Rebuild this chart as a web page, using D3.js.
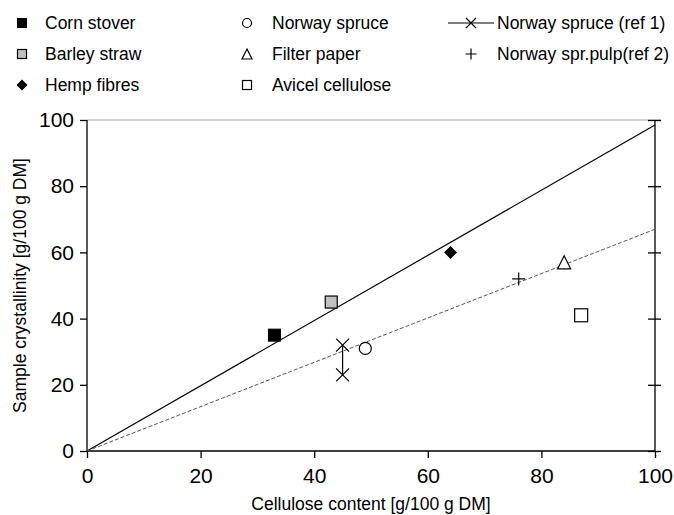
<!DOCTYPE html>
<html><head><meta charset="utf-8">
<script src="https://cdn.jsdelivr.net/npm/d3@7/dist/d3.min.js"></script>
<style>body{margin:0;background:#fff}svg{display:block}text{font-family:Arial,"Liberation Sans",sans-serif;fill:#000}</style>
</head><body>
<svg id="c" width="674" height="515"></svg>
<script>
// Data
const seriesNames = ["Corn stover","Barley straw","Hemp fibres","Norway spruce","Filter paper","Avicel cellulose","Norway spruce (ref 1)","Norway spr.pulp(ref 2)"];
const cellulose   = [33, 43, 64, 49, 84, 87];
const crystallinity = [35, 45, 60, 31, 57, 41];
const ref1Cellulose = [45, 45];
const ref1Cryst = [32, 23];
const ref2Cellulose = [76];
const ref2Cryst = [52];
const solidLineX = [0, 100];
const solidLineY = [0, 98.5];
const dashedLineX = [0, 100];
const dashedLineY = [0, 67];
const xTicks = [0, 20, 40, 60, 80, 100];
const yTicks = [0, 20, 40, 60, 80, 100];

const svg = d3.select("#c");
const L = 87, R = 655, T = 120, B = 451;
const x = d3.scaleLinear().domain([0,100]).range([L,R]);
const y = d3.scaleLinear().domain([0,100]).range([B,T]);

// top gray border
svg.append("line").attr("x1",L).attr("x2",R+6).attr("y1",T).attr("y2",T).attr("stroke","#a0a0a0").attr("stroke-width",1.2);

// axes
const xa = svg.append("g").attr("transform",`translate(0,${B})`).call(d3.axisBottom(x).tickValues(xTicks).tickSize(7).tickPadding(10));
const ya = svg.append("g").attr("transform",`translate(${L},0)`).call(d3.axisLeft(y).tickValues(yTicks).tickSize(7).tickPadding(6));
const ra = svg.append("g").attr("transform",`translate(${R},0)`).call(d3.axisRight(y).tickValues(yTicks).tickSize(6).tickFormat(""));
ra.selectAll(".tick line").attr("x1",-7);
[xa,ya,ra].forEach(a=>{
  a.select(".domain").attr("stroke","#000").attr("stroke-width",1.3);
  a.selectAll(".tick line").attr("stroke","#000").attr("stroke-width",1.3);
  a.selectAll("text").style("font-size","21px").style("font-family","Arial, 'Liberation Sans', sans-serif").attr("fill","#000");
});
xa.select(".domain").attr("d",`M${L},0H${R}`);
ya.select(".domain").attr("d",`M0,${B}V${T}`);
ra.select(".domain").attr("d",`M0,${B}V${T}`);

// lines
const lineGen = d3.line().x(d=>x(d[0])).y(d=>y(d[1]));
svg.append("path").datum(solidLineX.map((v,i)=>[v,solidLineY[i]])).attr("d",lineGen).attr("fill","none").attr("stroke","#000").attr("stroke-width",1.2);
svg.append("path").datum(dashedLineX.map((v,i)=>[v,dashedLineY[i]])).attr("d",lineGen).attr("fill","none").attr("stroke","#555").attr("stroke-width",1).attr("stroke-dasharray","4,2");

// marker drawing
function marker(g, type, cx, cy, s){
  const h = s/2;
  switch(type){
    case "sqFill": g.append("rect").attr("x",cx-h).attr("y",cy-h).attr("width",s).attr("height",s).attr("fill","#000").attr("stroke","#000"); break;
    case "sqGray": g.append("rect").attr("x",cx-h).attr("y",cy-h).attr("width",s).attr("height",s).attr("fill","#c0c0c0").attr("stroke","#000").attr("stroke-width",1.2); break;
    case "diamond": g.append("path").attr("d",`M${cx},${cy-h}L${cx+h},${cy}L${cx},${cy+h}L${cx-h},${cy}Z`).attr("fill","#000"); break;
    case "circle": g.append("circle").attr("cx",cx).attr("cy",cy).attr("r",h).attr("fill","#fff").attr("stroke","#000").attr("stroke-width",1.2); break;
    case "tri": g.append("path").attr("d",`M${cx},${cy-h}L${cx+h},${cy+h}L${cx-h},${cy+h}Z`).attr("fill","#fff").attr("stroke","#000").attr("stroke-width",1.2); break;
    case "sqOpen": g.append("rect").attr("x",cx-h).attr("y",cy-h).attr("width",s).attr("height",s).attr("fill","#fff").attr("stroke","#000").attr("stroke-width",1.2); break;
    case "x": g.append("path").attr("d",`M${cx-h},${cy-h}L${cx+h},${cy+h}M${cx-h},${cy+h}L${cx+h},${cy-h}`).attr("stroke","#000").attr("stroke-width",1.2); break;
    case "plus": g.append("path").attr("d",`M${cx-h},${cy}L${cx+h},${cy}M${cx},${cy-h}L${cx},${cy+h}`).attr("stroke","#000").attr("stroke-width",1.2); break;
  }
}
const types = ["sqFill","sqGray","diamond","circle","tri","sqOpen"];
const sizes = [12,12,13,12,13,13];
const pts = svg.append("g");
cellulose.forEach((v,i)=>marker(pts, types[i], x(v), y(crystallinity[i]), sizes[i]));
// ref 1: line with x markers
pts.append("path").datum(ref1Cellulose.map((v,i)=>[v,ref1Cryst[i]])).attr("d",lineGen).attr("stroke","#000").attr("stroke-width",1.2).attr("fill","none");
ref1Cellulose.forEach((v,i)=>marker(pts,"x",x(v),y(ref1Cryst[i]),13));
ref2Cellulose.forEach((v,i)=>marker(pts,"plus",x(v),y(ref2Cryst[i]),13));

// legend
const lg = svg.append("g");
const rows = [23, 54, 85];
const legendItems = [
  {t:"sqFill", mx:22, tx:45, r:0},
  {t:"sqGray", mx:22, tx:45, r:1},
  {t:"diamond", mx:22, tx:45, r:2},
  {t:"circle", mx:247, tx:272, r:0},
  {t:"tri", mx:247, tx:272, r:1},
  {t:"sqOpen", mx:247, tx:272, r:2},
  {t:"xline", mx:471, tx:497, r:0},
  {t:"plus", mx:471, tx:497, r:1}
];
const lsz = {sqFill:9,sqGray:9,diamond:11,circle:9,tri:10,sqOpen:9,xline:10,plus:11};
legendItems.forEach((d,i)=>{
  const cy = rows[d.r];
  if(d.t==="xline"){
    lg.append("line").attr("x1",d.mx-23).attr("x2",d.mx+23).attr("y1",cy).attr("y2",cy).attr("stroke","#000").attr("stroke-width",1);
    marker(lg,"x",d.mx,cy,10);
  } else marker(lg,d.t,d.mx,cy,lsz[d.t]);
  lg.append("text").attr("x",d.tx).attr("y",cy).attr("dy","0.35em").style("font-size","17.5px").text(seriesNames[i]);
});

// axis titles
svg.append("text").attr("x",(L+R)/2).attr("y",510).attr("text-anchor","middle").style("font-size","17.5px").text("Cellulose content [g/100 g DM]");
svg.append("text").attr("transform",`translate(26,${(T+B)/2}) rotate(-90)`).attr("text-anchor","middle").style("font-size","17.5px").text("Sample crystallinity [g/100 g DM]");
</script>
</body></html>
